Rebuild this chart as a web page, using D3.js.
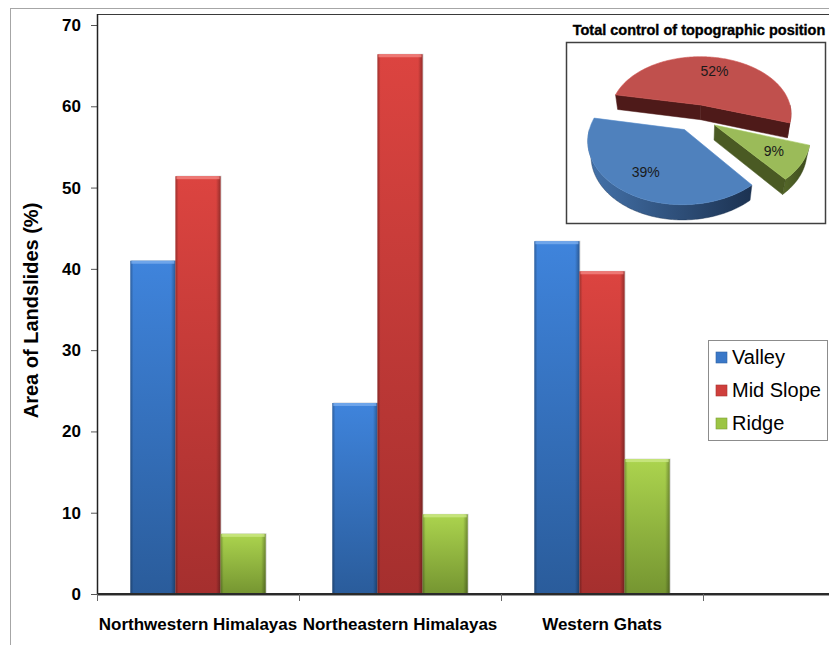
<!DOCTYPE html>
<html>
<head>
<meta charset="utf-8">
<script src="https://cdn.jsdelivr.net/npm/d3@7"></script>
<style>
  html, body { margin: 0; padding: 0; background: #fff; }
  svg { display: block; font-family: "Liberation Sans", Arial, sans-serif; }
</style>
</head>
<body>
<svg id="chart" width="829" height="645"></svg>
<script>
// ---- data ----
const categories = ["Northwestern Himalayas", "Northeastern Himalayas", "Western Ghats"];
const seriesNames = ["Valley", "Mid Slope", "Ridge"];
const valley   = [41.0, 23.5, 43.4];
const midSlope = [51.4, 66.4, 39.7];
const ridge    = [7.4, 9.8, 16.6];
const yTicks = [0, 10, 20, 30, 40, 50, 60, 70];
const yTitle = "Area of Landslides (%)";

const pieTitle = "Total control of topographic position";
const pieLabels = ["Mid Slope", "Ridge", "Valley"];
const pieValues = [52, 9, 39];

// ---- styling ----
const barColors = {
  "Valley":    { top: "#3f84dc", bottom: "#2a5c9b", cap: "#7fb0ef" },
  "Mid Slope": { top: "#dc4440", bottom: "#a52f2e", cap: "#f48a86" },
  "Ridge":     { top: "#acd44e", bottom: "#759531", cap: "#cdea8a" }
};
const legendSwatch = { "Valley": "#3a78c8", "Mid Slope": "#cf3f3c", "Ridge": "#9cc544" };
const pieStyle = {
  "Mid Slope": { top: "#c0504d", face: "#4e1a19", wallL: "#5e2120", wallR: "#441514" },
  "Ridge":     { top: "#9bbb59", face: "#4a5a23", wallL: "#56692a", wallR: "#3a481b" },
  "Valley":    { top: "#4f81bd", face: "#2b4a72", wallL: "#4472aa", wallR: "#1c3251" }
};

const svg = d3.select("#chart");
const defs = svg.append("defs");

// outer chart frame
svg.append("rect")
  .attr("x", 10.5).attr("y", 8.5).attr("width", 900).attr("height", 700)
  .attr("fill", "none").attr("stroke", "#a6a6a6").attr("stroke-width", 1);

// ---- scales ----
const plotLeft = 97, plotBottom = 594, plotTop = 14, plotRight = 900;
const y = d3.scaleLinear().domain([0, 70]).range([plotBottom, 25]);
const x = d3.scaleBand().domain(categories).range([plotLeft, plotLeft + 3 * 202]);
const xs = d3.scaleBand().domain(seriesNames)
  .range([x.bandwidth() * 0.165, x.bandwidth() * 0.835]);

// gradients for the bars
seriesNames.forEach((s, i) => {
  const g = defs.append("linearGradient").attr("id", "bv" + i)
    .attr("x1", 0).attr("y1", 0).attr("x2", 0).attr("y2", 1);
  g.append("stop").attr("offset", 0).attr("stop-color", barColors[s].top);
  g.append("stop").attr("offset", 1).attr("stop-color", barColors[s].bottom);
});
const edge = defs.append("linearGradient").attr("id", "bevel")
  .attr("x1", 0).attr("y1", 0).attr("x2", 1).attr("y2", 0);
[[0, 0.28], [0.07, 0.0], [0.9, 0.0], [1, 0.32]].forEach(([o, a]) =>
  edge.append("stop").attr("offset", o).attr("stop-color", "#000").attr("stop-opacity", a));

// plot area frame (top edge)
svg.append("line")
  .attr("x1", plotLeft).attr("x2", plotRight).attr("y1", plotTop + 0.5).attr("y2", plotTop + 0.5)
  .attr("stroke", "#3a3a3a").attr("stroke-width", 1.2);

// ---- bars ----
const seriesData = [valley, midSlope, ridge];
const groups = svg.append("g");
categories.forEach((c, ci) => {
  seriesNames.forEach((s, si) => {
    const v = seriesData[si][ci];
    const bx = x(c) + xs(s), bw = xs.bandwidth();
    const by = y(v), bh = y(0) - y(v);
    // soft shadow
    groups.append("rect").attr("x", bx + 1).attr("y", by - 0.5).attr("width", bw).attr("height", bh + 0.5)
      .attr("fill", "#d9d9d9");
    groups.append("rect").attr("x", bx).attr("y", by).attr("width", bw).attr("height", bh)
      .attr("fill", `url(#bv${si})`);
    groups.append("rect").attr("x", bx).attr("y", by).attr("width", bw).attr("height", bh)
      .attr("fill", "url(#bevel)");
    groups.append("rect").attr("x", bx + 1).attr("y", by).attr("width", bw - 2).attr("height", 3)
      .attr("fill", barColors[s].cap).attr("opacity", 0.75);
  });
});

// ---- y axis ----
const yAxis = svg.append("g").attr("transform", `translate(${plotLeft},0)`)
  .call(d3.axisLeft(y).tickValues(yTicks).tickSize(6).tickSizeOuter(0).tickPadding(10));
yAxis.select(".domain").remove();
yAxis.selectAll(".tick line").attr("stroke", "#555");
yAxis.selectAll(".tick text")
  .attr("font-family", "Liberation Sans, Arial, sans-serif")
  .attr("font-size", 17).attr("font-weight", "bold").attr("fill", "#000");
svg.append("line")
  .attr("x1", plotLeft + 0.5).attr("x2", plotLeft + 0.5).attr("y1", plotTop).attr("y2", plotBottom)
  .attr("stroke", "#222").attr("stroke-width", 1.5);

svg.append("text")
  .attr("transform", `translate(38,${(25 + 594) / 2 + 1}) rotate(-90)`)
  .attr("text-anchor", "middle")
  .attr("font-size", 20).attr("font-weight", "bold").attr("fill", "#000")
  .text(yTitle);

// ---- x axis ----
svg.append("line")
  .attr("x1", plotLeft).attr("x2", plotRight).attr("y1", plotBottom).attr("y2", plotBottom)
  .attr("stroke", "#2a2a2a").attr("stroke-width", 2);
svg.append("line")
  .attr("x1", plotLeft).attr("x2", plotRight).attr("y1", plotBottom + 1.5).attr("y2", plotBottom + 1.5)
  .attr("stroke", "#9a9a9a").attr("stroke-width", 1);
const boundaries = categories.map(c => x(c)).concat([x.range()[1]]);
svg.selectAll(".xtick").data(boundaries).join("line")
  .attr("class", "xtick")
  .attr("x1", d => d + 0.5).attr("x2", d => d + 0.5)
  .attr("y1", plotBottom).attr("y2", plotBottom + 7)
  .attr("stroke", "#666").attr("stroke-width", 1);

const xAxis = svg.append("g").attr("transform", `translate(0,${plotBottom})`)
  .call(d3.axisBottom(x).tickSize(0).tickPadding(24));
xAxis.select(".domain").remove();
xAxis.selectAll(".tick text")
  .attr("font-family", "Liberation Sans, Arial, sans-serif")
  .attr("font-size", 17).attr("font-weight", "bold").attr("fill", "#000");

// ---- legend ----
const lg = svg.append("g");
lg.append("rect").attr("x", 708.5).attr("y", 340.5).attr("width", 119).attr("height", 100)
  .attr("fill", "#fff").attr("stroke", "#8c8c8c").attr("stroke-width", 1);
seriesNames.forEach((s, i) => {
  const cy = 357 + i * 33;
  lg.append("rect").attr("x", 716).attr("y", cy - 5).attr("width", 11).attr("height", 11)
    .attr("fill", legendSwatch[s]).attr("stroke", d3.color(legendSwatch[s]).darker(0.6)).attr("stroke-width", 0.6);
  lg.append("text").attr("x", 732).attr("y", cy + 7)
    .attr("font-size", 20).attr("fill", "#000").text(s);
});

// ---- inset: exploded 3-D pie ----
svg.append("rect").attr("x", 566.5).attr("y", 42.5).attr("width", 259).attr("height", 181)
  .attr("fill", "#fff").attr("stroke", "#404040").attr("stroke-width", 1.5);
svg.append("text").attr("x", 699).attr("y", 35).attr("text-anchor", "middle")
  .attr("font-size", 14.5).attr("font-weight", "bold").attr("fill", "#000")
  .attr("stroke", "#000").attr("stroke-width", 0.35)
  .text(pieTitle);

const P3 = { cx: 696, cy: 117, R: 92, alpha: 40 * Math.PI / 180, D: 455, depth: 20 };
const sa = Math.sin(P3.alpha), ca = Math.cos(P3.alpha);
function proj(u, v, h) {
  const z = P3.D - v * ca - h * sa;
  const s = P3.D / z;
  return [P3.cx + u * s, P3.cy + (v * sa - h * ca) * s];
}
const explode = [20, 22, 22];
const pieStart = (190.8 + 90) * Math.PI / 180;
const arcs = d3.pie().sort(null).startAngle(pieStart).endAngle(pieStart + 2 * Math.PI)(pieValues);
arcs.forEach((a, i) => {
  a.t0 = a.startAngle - Math.PI / 2;
  a.t1 = a.endAngle - Math.PI / 2;
  a.mid = (a.t0 + a.t1) / 2;
  a.ou = explode[i] * Math.cos(a.mid);
  a.ov = explode[i] * Math.sin(a.mid);
  a.name = pieLabels[i];
});
function pt(a, r, th, h) {
  return proj(a.ou + r * Math.cos(th), a.ov + r * Math.sin(th), h);
}
function sampleAngles(t0, t1) {
  const n = Math.max(2, Math.ceil(Math.abs(t1 - t0) / (Math.PI / 180)));
  return d3.range(n + 1).map(k => t0 + (t1 - t0) * k / n);
}
const line = d3.line();
const pieG = svg.append("g");

// wall gradients
pieLabels.forEach((n, i) => {
  const g = defs.append("linearGradient").attr("id", "pw" + i)
    .attr("x1", 0).attr("y1", 0).attr("x2", 1).attr("y2", 0);
  g.append("stop").attr("offset", 0).attr("stop-color", pieStyle[n].wallL);
  g.append("stop").attr("offset", 1).attr("stop-color", pieStyle[n].wallR);
});

// draw back to front: Mid Slope, Ridge, Valley
[0, 1, 2].forEach(i => {
  const a = arcs[i], st = pieStyle[a.name], R = P3.R, t = P3.depth;
  // radial cut faces that face the viewer
  [[a.t0, Math.cos(a.t0) < 0], [a.t1, Math.cos(a.t1) > 0]].forEach(([th, vis]) => {
    if (!vis) return;
    const poly = [pt(a, 0, th, 0), pt(a, R, th, 0), pt(a, R, th, -t), pt(a, 0, th, -t)];
    pieG.append("path").attr("d", line(poly) + "Z").attr("fill", st.face)
      .attr("stroke", st.face).attr("stroke-width", 0.5);
  });
  // outer curved wall, front half only
  for (let k = -1; k <= 2; k++) {
    const lo = Math.max(a.t0, 2 * Math.PI * k), hi = Math.min(a.t1, 2 * Math.PI * k + Math.PI);
    if (hi > lo) {
      const angs = sampleAngles(lo, hi);
      const poly = angs.map(th => pt(a, R, th, 0)).concat(angs.slice().reverse().map(th => pt(a, R, th, -t)));
      pieG.append("path").attr("d", line(poly) + "Z").attr("fill", `url(#pw${i})`)
        .attr("stroke", st.wallR).attr("stroke-width", 0.4);
    }
  }
  // top face
  const top = [pt(a, 0, 0, 0)].concat(sampleAngles(a.t0, a.t1).map(th => pt(a, R, th, 0)));
  pieG.append("path").attr("d", line(top) + "Z").attr("fill", st.top)
    .attr("stroke", d3.color(st.top).brighter(0.2)).attr("stroke-width", 0.6);
});
// percentage labels
const total = d3.sum(pieValues);
arcs.forEach(a => {
  const [lx, ly] = pt(a, P3.R * 0.7, a.mid, 0);
  pieG.append("text").attr("x", lx).attr("y", ly + 5).attr("text-anchor", "middle")
    .attr("font-size", 14).attr("fill", "#1a1a1a")
    .text(Math.round(a.value / total * 100) + "%");
});
</script>
</body>
</html>
